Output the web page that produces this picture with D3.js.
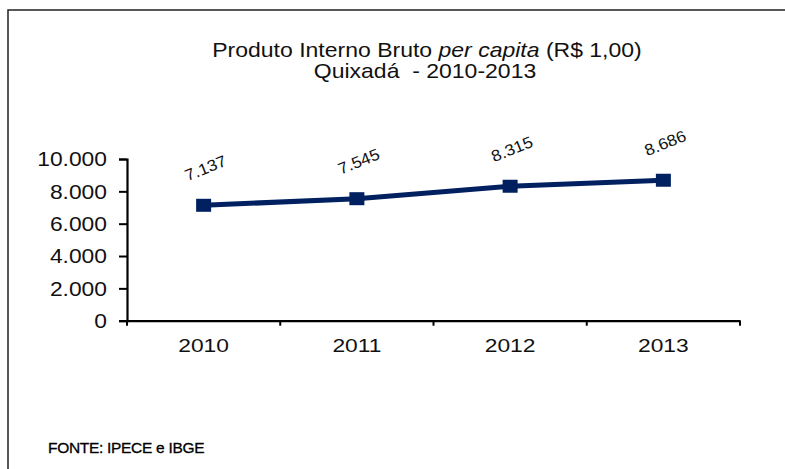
<!DOCTYPE html>
<html><head><meta charset="utf-8">
<script src="https://cdn.jsdelivr.net/npm/d3@7"></script>
<style>
html,body{margin:0;padding:0;background:#fff;}
svg{display:block;font-family:"Liberation Sans",Arial,sans-serif;}
</style></head>
<body>
<svg id="chart" width="785" height="469"></svg>
<script>
const years = ["2010","2011","2012","2013"];
const values = [7137, 7545, 8315, 8686];
const valueLabels = ["7.137","7.545","8.315","8.686"];
const yTicks = [0, 2000, 4000, 6000, 8000, 10000];
const yTickLabels = ["0","2.000","4.000","6.000","8.000","10.000"];
const titleLine1 = ["Produto Interno Bruto ", "per capita", " (R$ 1,00)"];
const titleLine2 = "Quixadá  - 2010-2013";
const sourceText = "FONTE: IPECE e IBGE";

const svg = d3.select("#chart");
const navy = "#002060";

// outer frame (extends past right/bottom edges)
svg.append("rect").attr("x",8).attr("y",10).attr("width",820).attr("height",520)
  .attr("fill","none").attr("stroke","#222").attr("stroke-width",1.5);

const x = d3.scaleBand().domain(years).range([127,740]);
const y = d3.scaleLinear().domain([0,10000]).range([320.7,159]);

// title
const t1 = svg.append("g").attr("transform","translate(427,56.7) scale(1.15,1)")
  .append("text").attr("text-anchor","middle").attr("font-size",20).attr("fill","#111");
t1.append("tspan").text(titleLine1[0]);
t1.append("tspan").attr("font-style","italic").text(titleLine1[1]);
t1.append("tspan").text(titleLine1[2]);
svg.append("g").attr("transform","translate(425,77.7) scale(1.15,1)")
  .append("text").attr("text-anchor","middle").attr("font-size",20).attr("fill","#111")
  .style("white-space","pre").attr("xml:space","preserve").text(titleLine2);

// y axis
const yAxis = svg.append("g").attr("transform","translate(127,0)")
  .call(d3.axisLeft(y).tickValues(yTicks).tickSize(8).tickFormat((d,i)=>yTickLabels[i]));
yAxis.select(".domain").attr("stroke","#000").attr("stroke-width",2.2);
yAxis.selectAll(".tick line").attr("stroke","#000").attr("stroke-width",2);
yAxis.selectAll(".tick text").attr("x",null).attr("dy",null)
  .attr("dominant-baseline","central")
  .attr("font-size",19.5).attr("fill","#111")
  .attr("transform","translate(-20,0) scale(1.17,1)");

// x axis
const xAxis = svg.append("g").attr("transform","translate(0,320.7)")
  .call(d3.axisBottom(x).tickSize(0).tickSizeOuter(0));
xAxis.select(".domain").attr("stroke","#000").attr("stroke-width",2.2);
xAxis.selectAll(".tick text").attr("y",null).attr("dy",null)
  .attr("font-size",19).attr("fill","#111")
  .attr("transform","translate(0,31) scale(1.2,1)");
// category boundary ticks
const bounds = years.map(d=>x(d)).concat([x(years[years.length-1])+x.bandwidth()]);
xAxis.selectAll(".btick").data(bounds).enter().append("line").attr("class","btick")
  .attr("x1",d=>d).attr("x2",d=>d).attr("y1",0).attr("y2",5)
  .attr("stroke","#000").attr("stroke-width",2);

// line
const cx = d => x(d) + x.bandwidth()/2;
const line = d3.line().x((d,i)=>cx(years[i])).y(d=>y(d));
svg.append("path").datum(values).attr("d",line)
  .attr("fill","none").attr("stroke",navy).attr("stroke-width",5);
svg.selectAll(".mk").data(values).enter().append("rect").attr("class","mk")
  .attr("x",(d,i)=>cx(years[i])-7.5).attr("y",d=>y(d)-6.5)
  .attr("width",15).attr("height",13).attr("fill",navy);

// data labels
svg.selectAll(".lbl").data(values).enter().append("g").attr("class","lbl")
  .attr("transform",(d,i)=>`translate(${cx(years[i])+2},${y(d)-37}) rotate(-22) scale(1.08,1)`)
  .append("text").attr("text-anchor","middle").attr("dominant-baseline","central")
  .attr("font-size",16).attr("fill","#111").text((d,i)=>valueLabels[i]);

// source
svg.append("text").attr("x",48).attr("y",453).attr("font-size",15.5)
  .attr("letter-spacing",-0.3).attr("fill","#000").attr("stroke","#000").attr("stroke-width",0.3)
  .text(sourceText);
</script>
</body></html>
